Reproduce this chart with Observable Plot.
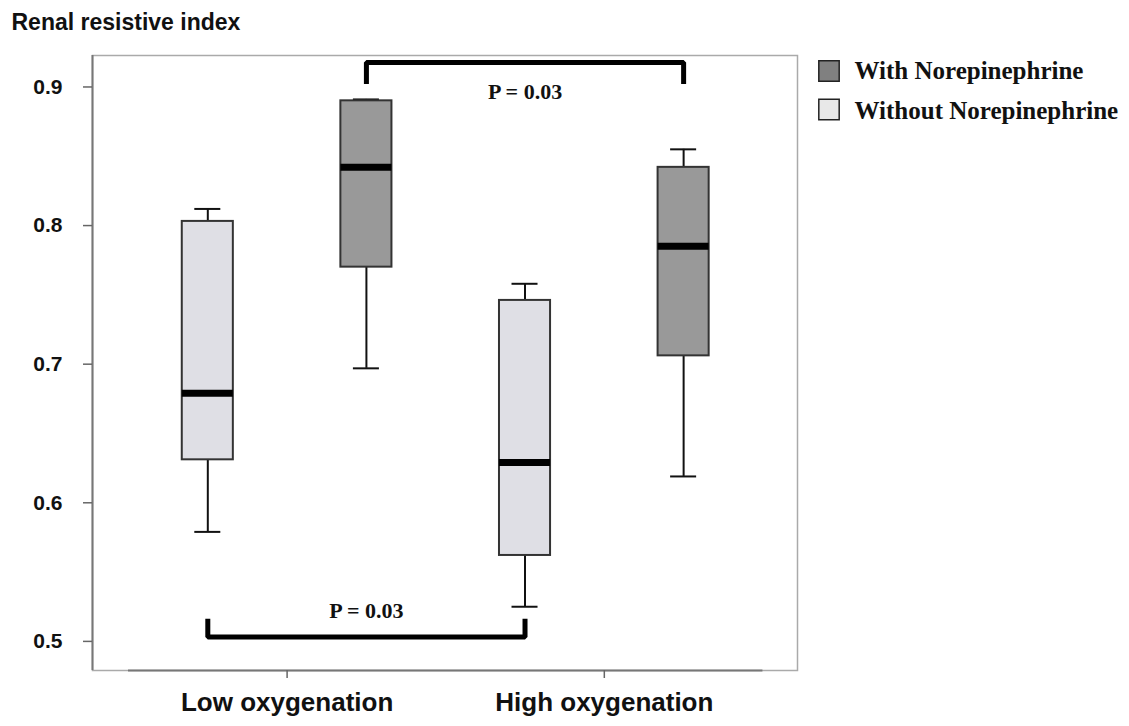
<!DOCTYPE html>
<html>
<head>
<meta charset="utf-8">
<script src="https://cdn.jsdelivr.net/npm/d3@7"></script>
<script src="https://cdn.jsdelivr.net/npm/@observablehq/plot@0.6"></script>
<style>
  html, body { margin: 0; padding: 0; background: #fff; }
  #chart { width: 1129px; height: 726px; }
</style>
</head>
<body>
<div id="chart"></div>
<script>
// ---- data ----
const groups = ["Low oxygenation", "High oxygenation"];
const seriesInGroup = ["Without Norepinephrine", "With Norepinephrine"];
const legendOrder = ["With Norepinephrine", "Without Norepinephrine"];
// boxes in order: Low-Without, Low-With, High-Without, High-With
const whiskerLow  = [0.579, 0.697, 0.525, 0.619];
const q1          = [0.631, 0.770, 0.562, 0.706];
const median      = [0.679, 0.842, 0.629, 0.785];
const q3          = [0.803, 0.890, 0.746, 0.842];
const whiskerHigh = [0.812, 0.891, 0.758, 0.855];
const yTicks = [0.5, 0.6, 0.7, 0.8, 0.9];
const yTitle = "Renal resistive index";
// significance brackets: between box indices
const bracketFrom  = [1, 0];
const bracketTo    = [3, 2];
const bracketLabel = ["P = 0.03", "P = 0.03"];
const bracketBar   = [0.9177, 0.5032];
const bracketLeg   = [0.9022, 0.5164];
const bracketText  = [0.8964, 0.5217];

// ---- derived tables ----
const boxes = q1.map((_, i) => ({
  pos: i + 1,
  group: groups[Math.floor(i / 2)],
  series: seriesInGroup[i % 2],
  lo: whiskerLow[i], q1: q1[i], med: median[i], q3: q3[i], hi: whiskerHigh[i]
}));
const groupTicks = groups.map((g, gi) => (gi * 2 + 1 + gi * 2 + 2) / 2);
const groupName = new Map(groupTicks.map((t, i) => [t, groups[i]]));

const bracketPts = [];
bracketFrom.forEach((a, k) => {
  const xa = boxes[a].pos, xb = boxes[bracketTo[k]].pos;
  [[xa, bracketLeg[k]], [xa, bracketBar[k]], [xb, bracketBar[k]], [xb, bracketLeg[k]]]
    .forEach(([x, y]) => bracketPts.push({k, x, y}));
});
const bracketLabels = bracketFrom.map((a, k) => ({
  x: (boxes[a].pos + boxes[bracketTo[k]].pos) / 2, y: bracketText[k], label: bracketLabel[k]
}));

const boxHalf = 0.161, capHalf = 0.082;
const xDomain = [0.273, 4.718];
const yDomain = [0.479, 0.9227];
const boxFill = {"Without Norepinephrine": "#dfdfe5", "With Norepinephrine": "#999999"};
const swatchFill = {"With Norepinephrine": "#808080", "Without Norepinephrine": "#e8e8e8"};
const sans = "'Liberation Sans', Arial, sans-serif";
const serif = "'Liberation Serif', 'Times New Roman', serif";

const legendMarks = legendOrder.flatMap((name, i) => [
  Plot.dot([name], {frameAnchor: "top-right", dx: 31.5, dy: 15.5 + i * 38.5, symbol: "square",
    r: 11.5, fill: swatchFill[name], stroke: "#222", strokeWidth: 1.5}),
  Plot.text([name], {frameAnchor: "top-right", dx: 57, dy: 15.5 + i * 39.5, text: d => d,
    textAnchor: "start", lineAnchor: "middle", fontSize: 25, fontWeight: "bold",
    fontFamily: serif, fill: "#111"})
]);

const chart = Plot.plot({
  width: 1129,
  height: 726,
  marginLeft: 92,
  marginRight: 332,
  marginTop: 55,
  marginBottom: 56,
  style: {fontFamily: sans, background: "#fff", color: "#111"},
  x: {type: "linear", domain: xDomain},
  y: {domain: yDomain},
  marks: [
    Plot.frame({stroke: "#aaa", strokeWidth: 1.5}),
    Plot.ruleX([xDomain[0]], {stroke: "#777", strokeWidth: 2}),
    Plot.ruleY([yDomain[0]], {x1: () => boxes[0].pos - 0.5, x2: () => boxes[boxes.length - 1].pos + 0.5,
      stroke: "#777", strokeWidth: 2}),
    Plot.axisY({ticks: yTicks, tickFormat: d3.format(".1f"), tickSize: 9, tickPadding: 21,
      fontSize: 21, fontWeight: "bold", label: null, stroke: "#666", strokeWidth: 1.5}),
    Plot.axisX({ticks: groupTicks, tickFormat: d => groupName.get(d), tickSize: 8, tickPadding: 14,
      fontSize: 26, fontWeight: "bold", label: null, stroke: "#666", strokeWidth: 1.5}),
    Plot.text([yTitle], {frameAnchor: "top-left", dx: -81, dy: -32.5, text: d => d,
      textAnchor: "start", lineAnchor: "middle", fontSize: 23, fontWeight: "bold", fill: "#111"}),
    // whiskers
    Plot.ruleX(boxes, {x: "pos", y1: "q3", y2: "hi", stroke: "#111", strokeWidth: 2}),
    Plot.ruleX(boxes, {x: "pos", y1: "lo", y2: "q1", stroke: "#111", strokeWidth: 2}),
    Plot.ruleY(boxes, {y: "hi", x1: d => d.pos - capHalf, x2: d => d.pos + capHalf, stroke: "#111", strokeWidth: 2}),
    Plot.ruleY(boxes, {y: "lo", x1: d => d.pos - capHalf, x2: d => d.pos + capHalf, stroke: "#111", strokeWidth: 2}),
    // boxes
    Plot.rect(boxes, {x1: d => d.pos - boxHalf, x2: d => d.pos + boxHalf, y1: "q1", y2: "q3",
      fill: d => boxFill[d.series], stroke: "#333", strokeWidth: 2}),
    Plot.ruleY(boxes, {y: "med", x1: d => d.pos - boxHalf, x2: d => d.pos + boxHalf, stroke: "#000", strokeWidth: 7}),
    // brackets
    Plot.line(bracketPts, {x: "x", y: "y", z: "k", stroke: "#000", strokeWidth: 5,
      strokeLinejoin: "miter", strokeLinecap: "butt", curve: "linear"}),
    Plot.text(bracketLabels, {x: "x", y: "y", text: "label", fontSize: 22, fontWeight: "bold",
      fontFamily: serif, fill: "#111", lineAnchor: "middle"}),
    ...legendMarks
  ]
});
document.getElementById("chart").appendChild(chart);
</script>
</body>
</html>
